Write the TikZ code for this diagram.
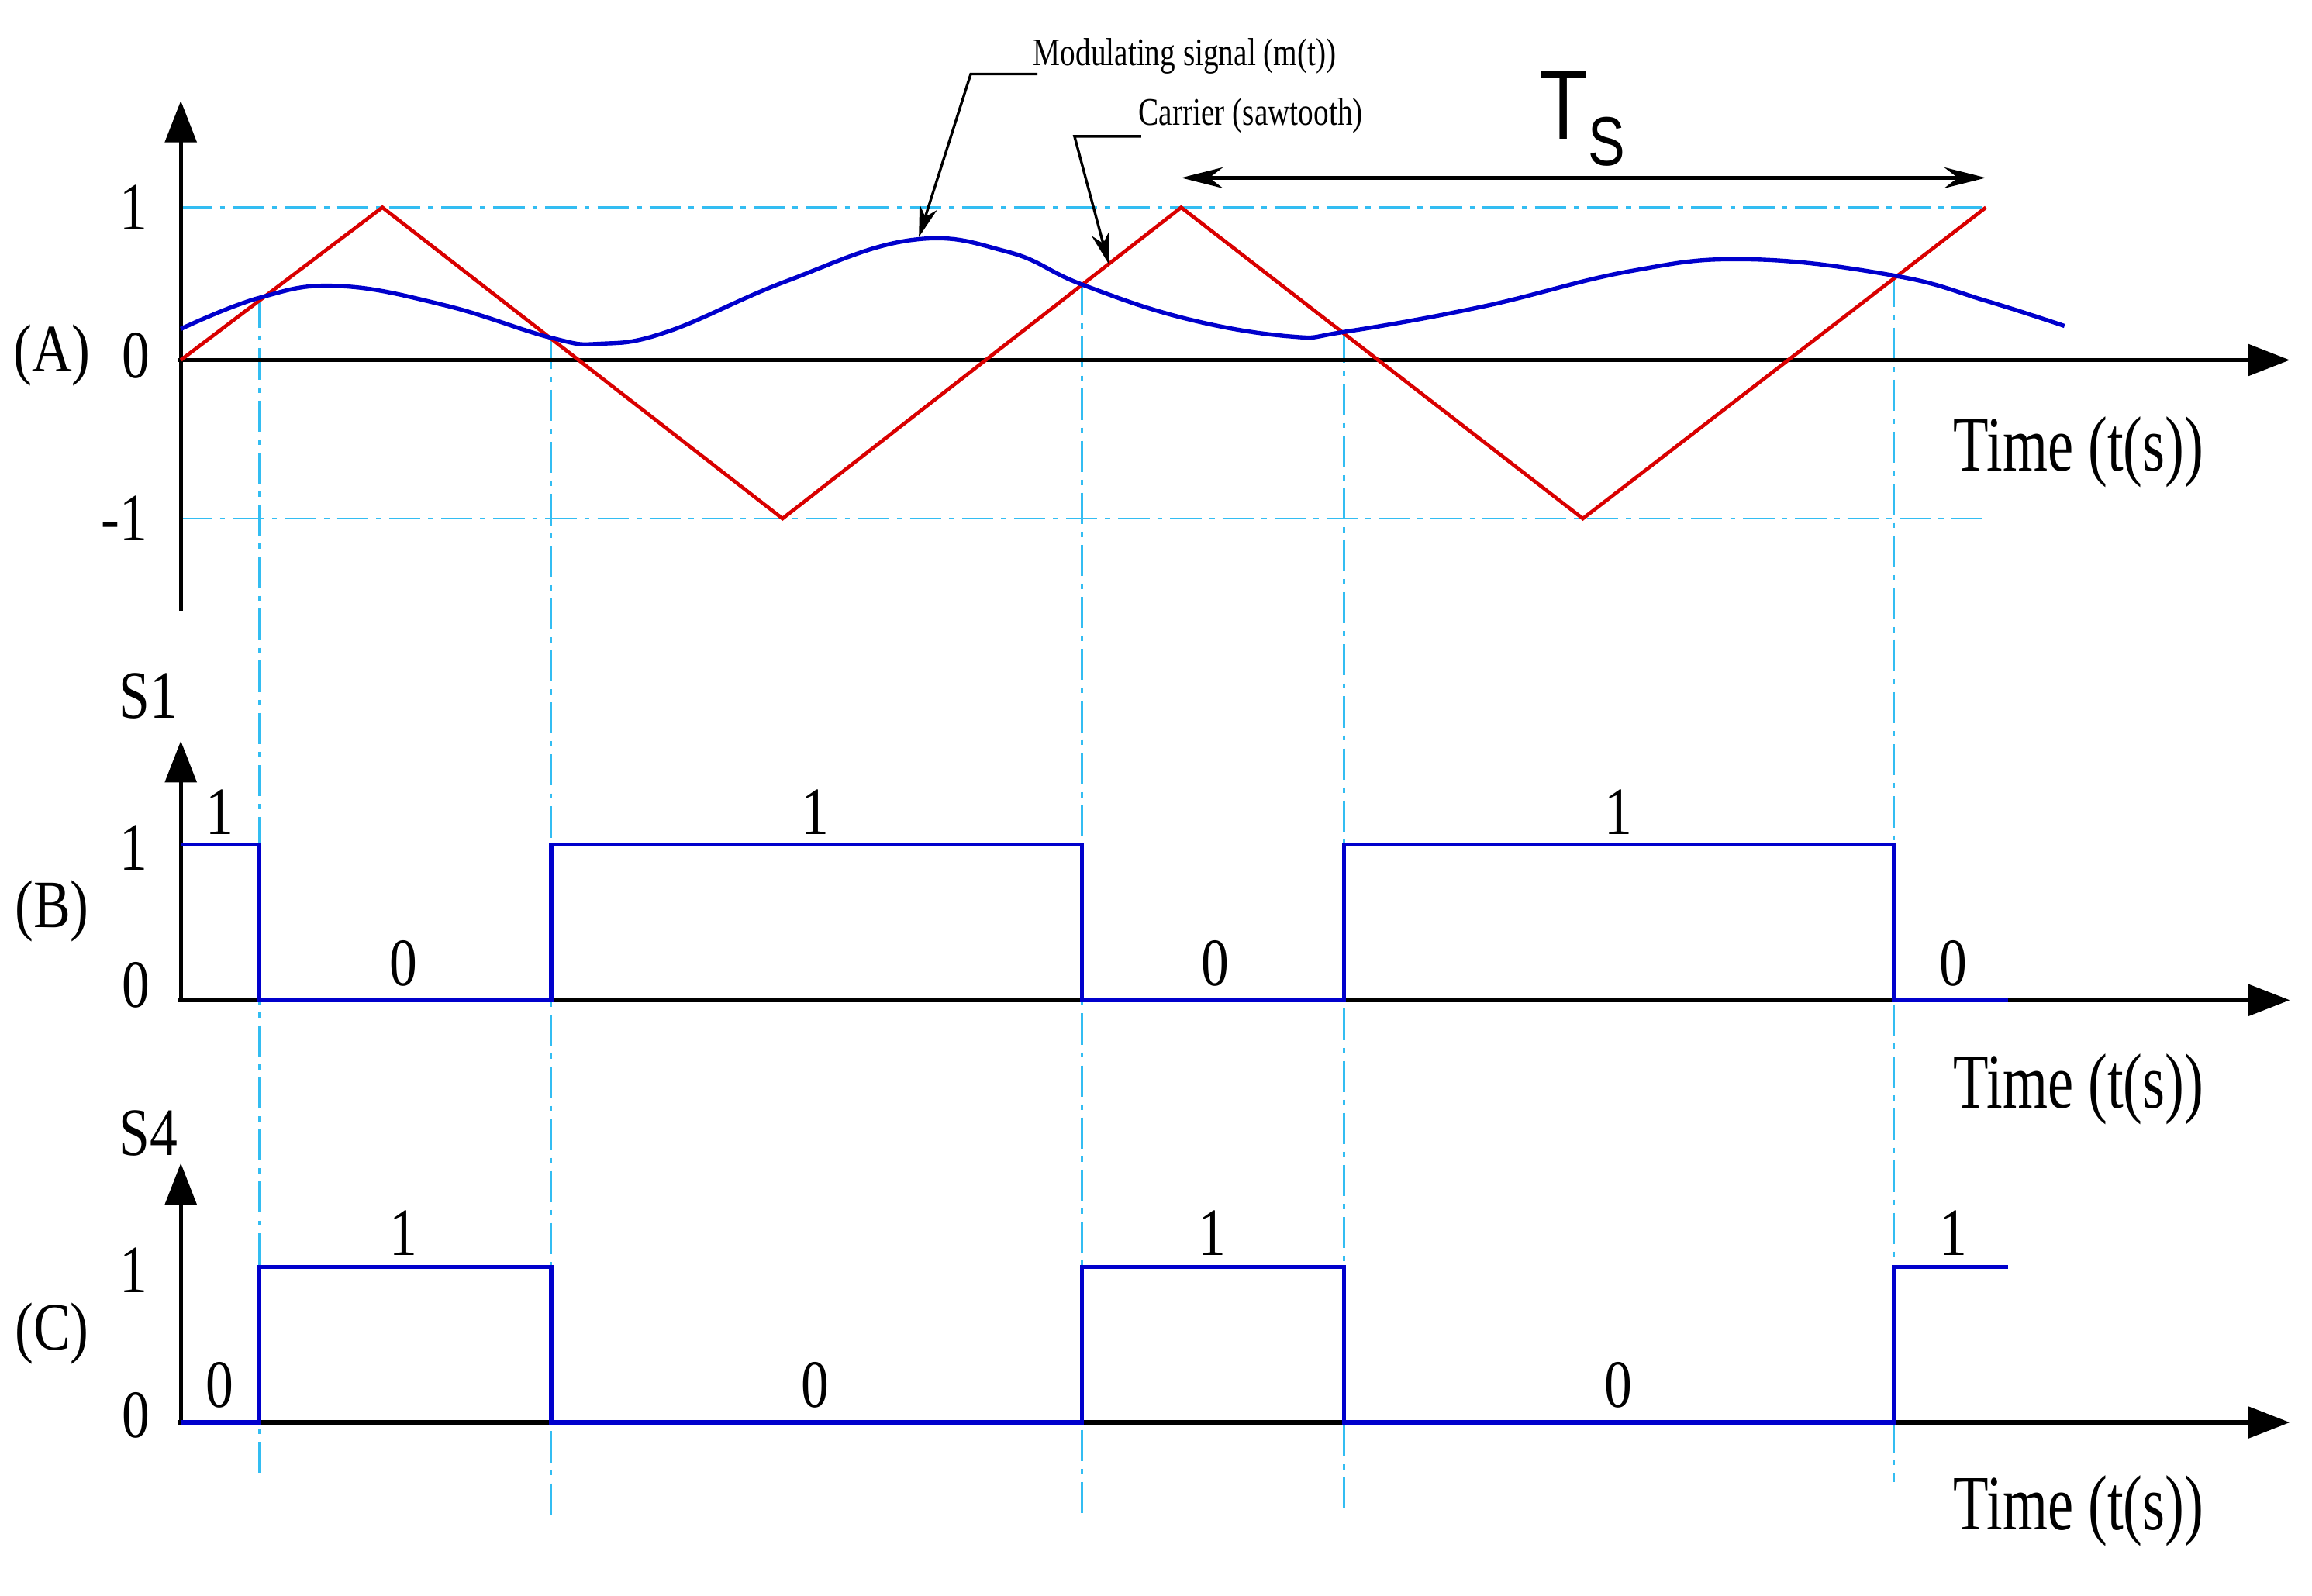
\documentclass[tikz,border=0pt]{standalone}
\usepackage{fontspec}
\setmainfont{Liberation Serif}
\newfontfamily\sansf{Liberation Sans}
\usetikzlibrary{arrows.meta}
\begin{document}
\begin{tikzpicture}[x=0.02cm,y=-0.02cm,
  ax/.style={line width=1.6pt,-{Triangle[length=16pt,width=12pt]}},
  grid/.style={cyan!80!white,line width=0.8pt,dash pattern=on 12pt off 3pt on 2pt off 3pt},
  sig/.style={blue!80!black,line width=1.6pt},
  car/.style={red!85!black,line width=1.4pt},
  lab/.style={font=\fontsize{26}{28}\selectfont,xscale=0.82,inner sep=0pt},
  big/.style={font=\fontsize{30}{32}\selectfont,xscale=0.74,inner sep=0pt},
  small/.style={font=\fontsize{15}{17}\selectfont,xscale=0.78,inner sep=0pt}]
\useasboundingbox (0,0) rectangle (1560,1077);
% grid lines
\draw[grid] (122,140) -- (1340,140);
\draw[grid] (122,350) -- (1340,350);
\draw[grid] (175,200) -- (175,997);
\draw[grid] (372,228) -- (372,1022);
\draw[grid] (730,192) -- (730,1022);
\draw[grid] (907,224) -- (907,1020);
\draw[grid] (1278,186) -- (1278,1000);
% axes A
\draw[ax] (120,243) -- (1545,243);
\draw[ax] (122,412) -- (122,68);
\draw[car] (122,243) -- (258,140) -- (528,350) -- (797,140) -- (1068,350) -- (1340,140);
\draw[sig] plot[smooth,tension=0.7] coordinates {(122,222) (175,201) (228,193) (300,206) (372,228) (405,232) (450,224) (530,190) (615,162) (680,170) (730,192) (800,215) (870,227) (907,224) (1000,207) (1100,183) (1180,175) (1278,186) (1340,203) (1393,220)};
\node[lab] (a1) at (90,140) {1};
\node[lab] (a0) at (92,240) {0};
\node[lab] (am) at (84,350) {-1};
\node[lab] (A) at (35,240) {(A)};
\node[big,anchor=west] (ta) at (1318,305) {Time (t(s))};
% annotations
\node[small,anchor=west] (mod) at (697,38) {Modulating signal (m(t))};
\node[small,anchor=west] (carl) at (768,78) {Carrier (sawtooth)};
\coordinate (m1) at (700,50); \coordinate (m2) at (655,50); \coordinate (m3) at (620,160);
\coordinate (c1) at (770,92); \coordinate (c2) at (725,92); \coordinate (c3) at (748,178);
\draw[line width=1pt,-{Stealth[length=12pt,width=7pt]}] (m1) -- (m2) -- (m3);
\draw[line width=1pt,-{Stealth[length=12pt,width=7pt]}] (c1) -- (c2) -- (c3);
\coordinate (ts1) at (797,120); \coordinate (ts2) at (1340,120);
\draw[line width=1.6pt,{Stealth[length=16pt,width=8pt]}-{Stealth[length=16pt,width=8pt]}] (ts1) -- (ts2);
\node[font=\sansf\fontsize{38}{40}\selectfont,inner sep=0pt,xscale=0.8] (ts) at (1068,80) {T\textsubscript{S}};
% B
\draw[ax] (120,675) -- (1545,675);
\draw[ax] (122,675) -- (122,500);
\draw[sig] (122,570) -- (175,570) -- (175,675) -- (372,675) -- (372,570) -- (730,570) -- (730,675) -- (907,675) -- (907,570) -- (1278,570) -- (1278,675) -- (1355,675);
\node[lab] (s1) at (100,470) {S1};
\node[lab] (b1) at (90,572) {1};
\node[lab] (b0) at (92,665) {0};
\node[lab] (B) at (35,615) {(B)};
\foreach \x/\y/\t [count=\i] in {148/548/1,272/650/0,550/548/1,820/650/0,1092/548/1,1318/650/0}
  \node[lab] (bl\i) at (\x,\y) {\t};
\node[big,anchor=west] (tb) at (1318,735) {Time (t(s))};
% C
\draw[ax] (120,960) -- (1545,960);
\draw[ax] (122,960) -- (122,785);
\draw[sig] (122,960) -- (175,960) -- (175,855) -- (372,855) -- (372,960) -- (730,960) -- (730,855) -- (907,855) -- (907,960) -- (1278,960) -- (1278,855) -- (1355,855);
\node[lab] (s4) at (100,765) {S4};
\node[lab] (c1l) at (90,857) {1};
\node[lab] (c0l) at (92,955) {0};
\node[lab] (C) at (35,900) {(C)};
\foreach \x/\y/\t [count=\i] in {148/935/0,272/832/1,550/935/0,818/832/1,1092/935/0,1318/832/1}
  \node[lab] (cl\i) at (\x,\y) {\t};
\node[big,anchor=west] (tc) at (1318,1020) {Time (t(s))};
\end{tikzpicture}
\end{document}
